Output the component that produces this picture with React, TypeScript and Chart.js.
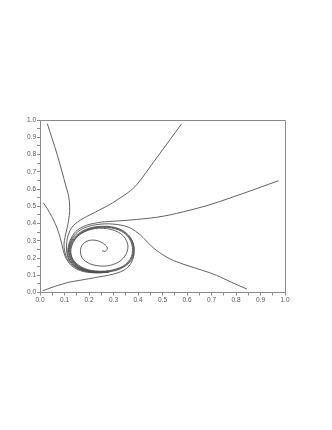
import React, { useEffect, useRef } from "react";
import { Chart, registerables } from "chart.js";

Chart.register(...registerables);

// Trajectory A: starts top-left
const trajAX = [0.03, 0.05, 0.07, 0.09, 0.105, 0.115, 0.12, 0.121, 0.117, 0.11, 0.102, 0.098, 0.1, 0.106, 0.117, 0.134, 0.157, 0.185, 0.217, 0.25, 0.283];
const trajAY = [0.978, 0.89, 0.80, 0.70, 0.62, 0.57, 0.525, 0.47, 0.42, 0.37, 0.32, 0.28, 0.245, 0.213, 0.183, 0.157, 0.137, 0.123, 0.116, 0.115, 0.119];

// Trajectory B: starts left at 0.52
const trajBX = [0.014, 0.03, 0.048, 0.062, 0.073, 0.082, 0.089, 0.095, 0.102, 0.113, 0.129, 0.151, 0.179, 0.211, 0.245, 0.28];
const trajBY = [0.519, 0.485, 0.44, 0.40, 0.36, 0.32, 0.28, 0.245, 0.212, 0.182, 0.155, 0.135, 0.121, 0.115, 0.114, 0.118];

// Trajectory C: starts bottom-left
const trajCX = [0.011, 0.03, 0.06, 0.09, 0.12, 0.16, 0.2, 0.24, 0.28, 0.315, 0.343, 0.363, 0.376, 0.383, 0.384, 0.38, 0.369];
const trajCY = [0.01, 0.02, 0.035, 0.048, 0.06, 0.07, 0.08, 0.09, 0.1, 0.113, 0.13, 0.153, 0.183, 0.215, 0.25, 0.285, 0.318];

// Trajectory D: starts top at 0.58
const trajDX = [0.578, 0.531, 0.463, 0.395, 0.36, 0.327, 0.3, 0.272, 0.245, 0.218, 0.19, 0.163, 0.143, 0.129, 0.118, 0.111, 0.108, 0.109, 0.115, 0.128, 0.149, 0.176, 0.208, 0.243, 0.278];
const trajDY = [0.978, 0.887, 0.755, 0.625, 0.58, 0.548, 0.523, 0.50, 0.48, 0.46, 0.44, 0.418, 0.397, 0.375, 0.345, 0.31, 0.27, 0.235, 0.2, 0.17, 0.145, 0.128, 0.119, 0.116, 0.119];

// Trajectory E: starts right at 0.65
const trajEX = [0.973, 0.88, 0.776, 0.68, 0.585, 0.531, 0.476, 0.42, 0.367, 0.32, 0.286, 0.25, 0.218, 0.19, 0.163, 0.145, 0.131, 0.121, 0.115, 0.113, 0.118, 0.13, 0.149, 0.175, 0.207, 0.242, 0.277];
const trajEY = [0.648, 0.60, 0.548, 0.503, 0.468, 0.45, 0.436, 0.427, 0.42, 0.415, 0.412, 0.408, 0.40, 0.39, 0.372, 0.352, 0.325, 0.295, 0.262, 0.23, 0.198, 0.17, 0.147, 0.13, 0.12, 0.117, 0.12];

// Trajectory F: starts bottom-right
const trajFX = [0.845, 0.78, 0.72, 0.66, 0.6, 0.56, 0.53, 0.5, 0.475, 0.45, 0.43, 0.41, 0.39, 0.37, 0.345, 0.315, 0.28, 0.245, 0.21, 0.18, 0.155, 0.137, 0.124, 0.118, 0.117, 0.122, 0.134, 0.152, 0.177, 0.208, 0.242, 0.277];
const trajFY = [0.02, 0.06, 0.1, 0.13, 0.157, 0.177, 0.195, 0.22, 0.245, 0.275, 0.305, 0.333, 0.355, 0.373, 0.386, 0.394, 0.398, 0.396, 0.388, 0.374, 0.353, 0.326, 0.295, 0.263, 0.23, 0.198, 0.171, 0.149, 0.132, 0.122, 0.118, 0.121];

// Trajectory G: inner spiral from the centre
const spiralX = [0.253, 0.262, 0.271, 0.275, 0.271, 0.26, 0.245, 0.225, 0.205, 0.188, 0.175, 0.167, 0.165, 0.168, 0.177, 0.192, 0.212, 0.236, 0.262, 0.288, 0.312, 0.332, 0.347, 0.356, 0.359, 0.353, 0.34, 0.319, 0.291, 0.259, 0.227, 0.197, 0.17, 0.149, 0.135, 0.127, 0.126, 0.132, 0.146, 0.167, 0.194, 0.226, 0.258];
const spiralY = [0.243, 0.238, 0.244, 0.256, 0.27, 0.282, 0.295, 0.303, 0.303, 0.295, 0.28, 0.26, 0.237, 0.213, 0.192, 0.175, 0.162, 0.155, 0.153, 0.158, 0.17, 0.188, 0.212, 0.24, 0.27, 0.30, 0.328, 0.35, 0.365, 0.372, 0.371, 0.361, 0.343, 0.318, 0.289, 0.256, 0.223, 0.191, 0.163, 0.142, 0.129, 0.123, 0.122];

// Limit cycle laps
const cycleX = [0.120, 0.124, 0.135, 0.153, 0.178, 0.210, 0.245, 0.280, 0.312, 0.340, 0.362, 0.376, 0.381, 0.378, 0.367, 0.348, 0.322, 0.290, 0.255, 0.220, 0.188, 0.160, 0.139, 0.126, 0.120];
const cycleY = [0.250, 0.215, 0.183, 0.157, 0.137, 0.124, 0.120, 0.123, 0.133, 0.150, 0.175, 0.207, 0.243, 0.280, 0.315, 0.344, 0.366, 0.378, 0.381, 0.376, 0.362, 0.340, 0.312, 0.281, 0.250];
const outerX = [0.117, 0.121, 0.132, 0.151, 0.176, 0.209, 0.245, 0.281, 0.314, 0.342, 0.365, 0.379, 0.384, 0.381, 0.370, 0.350, 0.324, 0.291, 0.255, 0.219, 0.186, 0.157, 0.136, 0.123, 0.117];
const outerY = [0.250, 0.214, 0.181, 0.155, 0.134, 0.121, 0.117, 0.120, 0.130, 0.148, 0.173, 0.206, 0.243, 0.281, 0.317, 0.347, 0.369, 0.381, 0.384, 0.379, 0.365, 0.342, 0.314, 0.282, 0.250];
const innerX = [0.123, 0.127, 0.138, 0.156, 0.180, 0.211, 0.245, 0.279, 0.310, 0.338, 0.359, 0.373, 0.378, 0.375, 0.364, 0.346, 0.320, 0.289, 0.255, 0.221, 0.190, 0.162, 0.142, 0.129, 0.123];
const innerY = [0.250, 0.216, 0.185, 0.160, 0.140, 0.127, 0.123, 0.126, 0.136, 0.152, 0.177, 0.208, 0.243, 0.279, 0.313, 0.342, 0.363, 0.375, 0.378, 0.373, 0.359, 0.338, 0.310, 0.280, 0.250];

const axisMin = 0;
const axisMax = 1;
const tickStep = 0.05;

function toPoints(xs: number[], ys: number[]) {
  return xs.map((x, i) => ({ x, y: ys[i] }));
}

const series: [number[], number[]][] = [
  [trajAX, trajAY],
  [trajBX, trajBY],
  [trajCX, trajCY],
  [trajDX, trajDY],
  [trajEX, trajEY],
  [trajFX, trajFY],
  [spiralX, spiralY],
  [cycleX, cycleY],
  [outerX, outerY],
  [innerX, innerY],
];

const frame = {
  id: "frame",
  afterDatasetsDraw(chart: any) {
    const { ctx, chartArea } = chart;
    ctx.save();
    ctx.strokeStyle = "#8a8a8a";
    ctx.lineWidth = 1;
    ctx.beginPath();
    ctx.moveTo(chartArea.left, chartArea.top + 0.5);
    ctx.lineTo(chartArea.right + 0.5, chartArea.top + 0.5);
    ctx.lineTo(chartArea.right + 0.5, chartArea.bottom);
    ctx.stroke();
    ctx.restore();
  },
};

function labelCb(v: any) {
  const n = Number(v);
  const r = Math.round(n * 10);
  return Math.abs(n * 10 - r) < 1e-6 ? (r / 10).toFixed(1) : "";
}

export default function App() {
  const ref = useRef<HTMLCanvasElement>(null);
  useEffect(() => {
    if (!ref.current) return;
    const chart = new Chart(ref.current, {
      type: "scatter",
      data: {
        datasets: series.map(([xs, ys]) => ({
          data: toPoints(xs, ys),
          showLine: true,
          borderColor: "#505050",
          borderWidth: 0.9,
          pointRadius: 0,
          tension: 0.35,
          fill: false,
        })),
      },
      options: {
        animation: false,
        responsive: false,
        events: [],
        layout: { padding: { left: 0, right: 47, top: 120, bottom: 117.5 } },
        plugins: { legend: { display: false }, tooltip: { enabled: false } },
        scales: {
          x: {
            type: "linear",
            min: axisMin,
            max: axisMax,
            afterFit: (s: any) => { s.height = 20; },
            border: { display: true, color: "#8a8a8a" },
            grid: { display: true, drawOnChartArea: false, drawTicks: true, tickLength: 3, color: "#8a8a8a" },
            ticks: {
              stepSize: tickStep,
              autoSkip: false,
              maxRotation: 0,
              padding: 1,
              color: "#555",
              font: { family: "Liberation Sans", size: 6.5 },
              callback: labelCb,
            },
          },
          y: {
            type: "linear",
            min: axisMin,
            max: axisMax,
            afterFit: (s: any) => { s.width = 40; },
            border: { display: true, color: "#8a8a8a" },
            grid: { display: true, drawOnChartArea: false, drawTicks: true, tickLength: 3, color: "#8a8a8a" },
            ticks: {
              stepSize: tickStep,
              autoSkip: false,
              padding: 1,
              color: "#555",
              font: { family: "Liberation Sans", size: 6.5 },
              callback: labelCb,
            },
          },
        },
      },
      plugins: [frame],
    });
    return () => chart.destroy();
  }, []);
  return (
    <div style={{ position: "fixed", left: 0, top: 0, width: 332, height: 430, background: "#fff" }}>
      <canvas ref={ref} width={332} height={430} style={{ width: 332, height: 430 }} />
    </div>
  );
}
